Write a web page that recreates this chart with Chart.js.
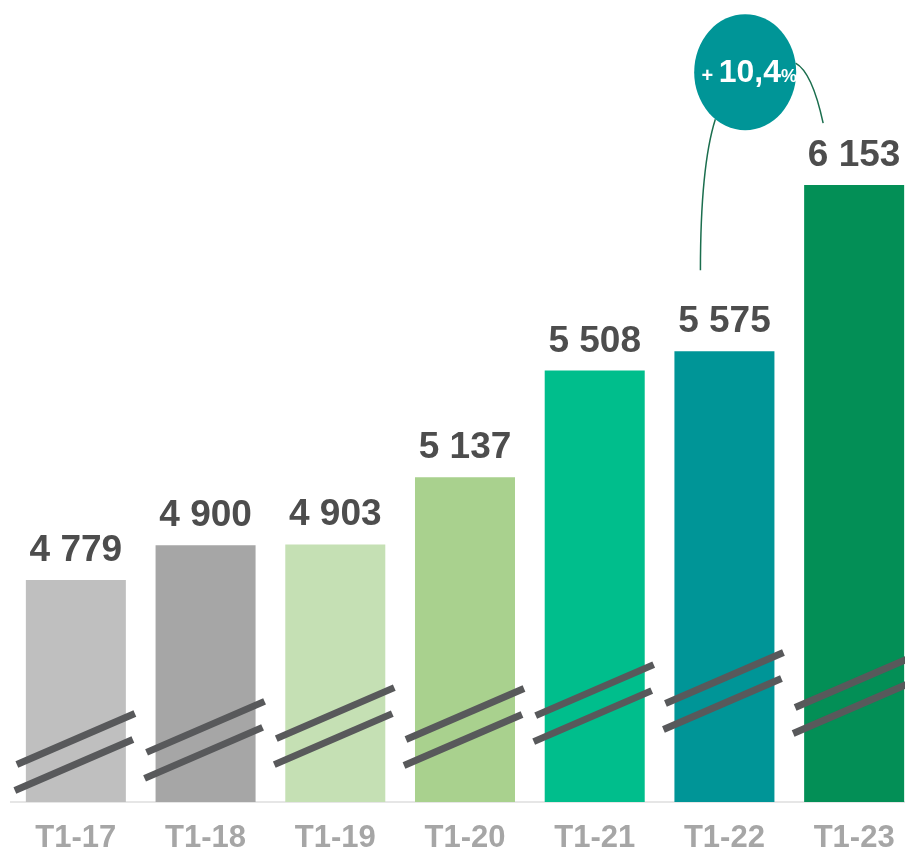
<!DOCTYPE html>
<html>
<head>
<meta charset="utf-8">
<script src="https://cdn.jsdelivr.net/npm/chart.js@4.4.0/dist/chart.umd.min.js"></script>
<style>
html, body { margin: 0; padding: 0; background: #fff; overflow: hidden; }
#wrap { position: relative; width: 920px; height: 854px; }
</style>
</head>
<body>
<div id="wrap"><canvas id="chart"></canvas></div>
<script>
// data
var labels = ['T1-17', 'T1-18', 'T1-19', 'T1-20', 'T1-21', 'T1-22', 'T1-23'];
var values = [4779, 4900, 4903, 5137, 5508, 5575, 6153];
var barColors = ['#bfbfbf', '#a6a6a6', '#c5e0b4', '#a9d18e', '#00be8c', '#009597', '#038f56'];
// axis is broken: the break marks sit at these values
var breakLevels = [4181, 4223, 4271, 4268, 4351, 4393, 4379];
var axisMin = 4007;
var axisMax = 6797;
var bubbleLevel = 6546;

function fmt(v) {
    return v.toString().replace(/\B(?=(\d{3})+(?!\d))/g, ' ');
}

var growth = (values[6] / values[5] - 1) * 100;
var growthText = growth.toFixed(1).replace('.', ',');

var decorPlugin = {
    id: 'decor',
    afterDatasetsDraw: function (chart) {
        var ctx = chart.ctx;
        var y = chart.scales.y;
        var bars = chart.getDatasetMeta(0).data;

        // break marks
        ctx.save();
        ctx.strokeStyle = '#58595b';
        ctx.lineWidth = 7;
        ctx.lineCap = 'butt';
        for (var i = 0; i < bars.length; i++) {
            var cx = bars[i].x;
            var cy = y.getPixelForValue(breakLevels[i]);
            [[-13, 0], [13, -2]].forEach(function (o) {
                ctx.beginPath();
                ctx.moveTo(cx + o[1] - 59, cy + o[0] + 25.5);
                ctx.lineTo(cx + o[1] + 59, cy + o[0] - 25.5);
                ctx.stroke();
            });
        }
        ctx.restore();

        // value labels
        ctx.save();
        ctx.font = 'bold 37px "Liberation Sans", Arial, sans-serif';
        ctx.fillStyle = '#4d4d4d';
        ctx.textAlign = 'center';
        ctx.textBaseline = 'alphabetic';
        for (var j = 0; j < bars.length; j++) {
            ctx.fillText(fmt(values[j]), bars[j].x, bars[j].y - 19);
        }
        ctx.restore();

        // growth bubble
        var b5 = bars[5], b6 = bars[6];
        var bx = b5.x + (b6.x - b5.x) * 0.16;
        var by = y.getPixelForValue(bubbleLevel);
        var rx = 51, ry = 58;

        ctx.save();
        ctx.strokeStyle = '#1b6e4e';
        ctx.lineWidth = 1.5;
        // left connector
        var a1 = 125.8 * Math.PI / 180;
        var e1x = bx + rx * Math.cos(a1), e1y = by + ry * Math.sin(a1);
        var s1x = b5.x - 24, s1y = b5.y - 81;
        ctx.beginPath();
        ctx.moveTo(s1x, s1y);
        ctx.quadraticCurveTo(s1x, e1y + 47, e1x, e1y);
        ctx.stroke();
        // right connector
        var a2 = -9 * Math.PI / 180;
        var s2x = bx + rx * Math.cos(a2), s2y = by + ry * Math.sin(a2);
        var e2x = b6.x - 31, e2y = b6.y - 62;
        ctx.beginPath();
        ctx.moveTo(s2x, s2y);
        ctx.quadraticCurveTo(e2x - 11, s2y + 9, e2x, e2y);
        ctx.stroke();

        ctx.fillStyle = '#009597';
        ctx.beginPath();
        ctx.ellipse(bx, by, rx, ry, 0, 0, Math.PI * 2);
        ctx.fill();

        ctx.fillStyle = '#ffffff';
        ctx.textBaseline = 'alphabetic';
        ctx.textAlign = 'left';
        var fPlus = 'bold 20px "Liberation Sans", Arial, sans-serif';
        var fNum = 'bold 32px "Liberation Sans", Arial, sans-serif';
        var fPct = 'bold 18px "Liberation Sans", Arial, sans-serif';
        ctx.font = fPlus; var w1 = ctx.measureText('+ ').width;
        ctx.font = fNum; var w2 = ctx.measureText(growthText).width;
        ctx.font = fPct; var w3 = ctx.measureText('%').width;
        var tx = bx + 4 - (w1 + w2 + w3) / 2;
        var ty = by + 10;
        ctx.font = fPlus; ctx.fillText('+', tx, ty);
        ctx.font = fNum; ctx.fillText(growthText, tx + w1, ty);
        ctx.font = fPct; ctx.fillText('%', tx + w1 + w2, ty);
        ctx.restore();
    }
};

new Chart(document.getElementById('chart'), {
    type: 'bar',
    data: {
        labels: labels,
        datasets: [{
            data: values,
            backgroundColor: barColors,
            categoryPercentage: 1,
            barPercentage: 0.771
        }]
    },
    options: {
        responsive: true,
        maintainAspectRatio: false,
        animation: false,
        layout: { padding: { left: 11, right: 1, top: 0, bottom: 0 } },
        plugins: {
            legend: { display: false },
            tooltip: { enabled: false }
        },
        scales: {
            x: {
                grid: { display: false },
                border: { display: true, color: '#e6e6e6', width: 2 },
                ticks: {
                    color: '#a6a6a6',
                    font: { family: '"Liberation Sans", Arial, sans-serif', size: 31, weight: 'bold' },
                    padding: 10
                },
                afterFit: function (s) { s.height = 52; }
            },
            y: {
                display: false,
                min: axisMin,
                max: axisMax
            }
        }
    },
    plugins: [decorPlugin]
});
</script>
</body>
</html>
